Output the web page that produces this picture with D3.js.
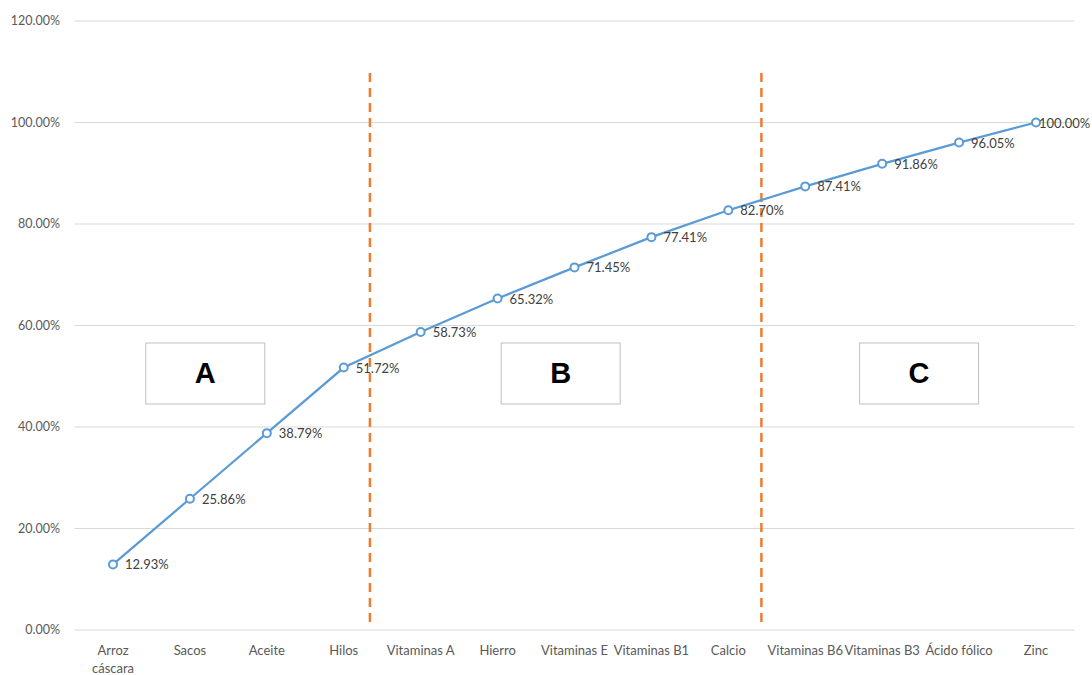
<!DOCTYPE html>
<html><head><meta charset="utf-8">
<script src="https://cdn.jsdelivr.net/npm/d3@7"></script>
<style>body{margin:0;background:#fff}svg{display:block}</style>
</head><body>
<svg id="c" width="1092" height="675"></svg>
<script>
const categories = ["Arroz cáscara","Sacos","Aceite","Hilos","Vitaminas A","Hierro","Vitaminas E","Vitaminas B1","Calcio","Vitaminas B6","Vitaminas B3","Ácido fólico","Zinc"];
const cumulative = [12.93,25.86,38.79,51.72,58.73,65.32,71.45,77.41,82.70,87.41,91.86,96.05,100.00];
const yTicks = [0,20,40,60,80,100,120];
const zoneLabels = ["A","B","C"];
const zoneAnchors = [{cat:"Sacos", frac:0.2},{cat:"Hierro", frac:0.82},{cat:"Ácido fólico", frac:-0.52}];
const dividers = [{after:"Hilos", frac:0.34},{after:"Calcio", frac:0.43}];

const svg = d3.select("#c");
const font = "Lato, 'Open Sans', sans-serif";
const x = d3.scalePoint().domain(categories).range([113,1036]);
const step = x.step();
const y = d3.scaleLinear().domain([0,120]).range([630,21]);
const left = x(categories[0]) - step/2, right = x(categories[categories.length-1]) + step/2;

// gridlines
svg.append("g").selectAll("line").data(yTicks).join("line")
  .attr("x1", left).attr("x2", right)
  .attr("y1", d=>y(d)).attr("y2", d=>y(d))
  .attr("stroke", "#d9d9d9").attr("stroke-width", 1);

// y labels
svg.append("g").selectAll("text").data(yTicks).join("text")
  .attr("x", 60).attr("y", d=>y(d)+4).attr("text-anchor","end")
  .attr("font-family", font).attr("font-size", 12.5).attr("fill", "#595959")
  .text(d=>d.toFixed(2)+"%");

// x labels
const xl = svg.append("g").selectAll("text").data(categories).join("text")
  .attr("x", d=>x(d)).attr("y", 655).attr("text-anchor","middle")
  .attr("font-family", font).attr("font-size", 13).attr("fill", "#595959");
xl.each(function(d){
  const words = d === "Arroz cáscara" ? ["Arroz","cáscara"] : [d];
  const t = d3.select(this);
  words.forEach((w,i)=>t.append("tspan").attr("x", x(d)).attr("dy", i===0?0:18).text(w));
});

// zone boxes
const zones = zoneLabels.map((l,i)=>({label:l, cx: x(zoneAnchors[i].cat) + step*zoneAnchors[i].frac}));
const bw = 119, bh = 61;
const zg = svg.append("g").selectAll("g").data(zones).join("g");
zg.append("rect").attr("x", d=>d.cx-bw/2).attr("y", 343).attr("width", bw).attr("height", bh)
  .attr("fill","#fff").attr("stroke","#bfbfbf").attr("stroke-width",1);
zg.append("text").attr("x", d=>d.cx).attr("y", 383).attr("text-anchor","middle")
  .attr("font-family","'Liberation Sans', Arial, sans-serif").attr("font-weight","bold")
  .attr("font-size", 29).attr("fill","#000").text(d=>d.label);

// dividers
svg.append("g").selectAll("line").data(dividers).join("line")
  .attr("x1", d=>x(d.after)+step*d.frac).attr("x2", d=>x(d.after)+step*d.frac)
  .attr("y1", 73).attr("y2", 628)
  .attr("stroke","#ed7d31").attr("stroke-width",2.5).attr("stroke-dasharray","9,6");

// line
const data = categories.map((c,i)=>({c, v:cumulative[i]}));
svg.append("path").datum(data)
  .attr("d", d3.line().x(d=>x(d.c)).y(d=>y(d.v)))
  .attr("fill","none").attr("stroke","#5b9bd5").attr("stroke-width",2.25);
svg.append("g").selectAll("circle").data(data).join("circle")
  .attr("cx", d=>x(d.c)).attr("cy", d=>y(d.v)).attr("r", 4)
  .attr("fill","#fff").attr("stroke","#5b9bd5").attr("stroke-width",2);

// data labels
svg.append("g").selectAll("text").data(data).join("text")
  .attr("x", d=>x(d.c) + (d.v===100?3:12)).attr("y", d=>y(d.v)+5)
  .attr("font-family", font).attr("font-size", 13).attr("fill", "#404040")
  .text(d=>d.v.toFixed(2)+"%");
</script>
</body></html>
